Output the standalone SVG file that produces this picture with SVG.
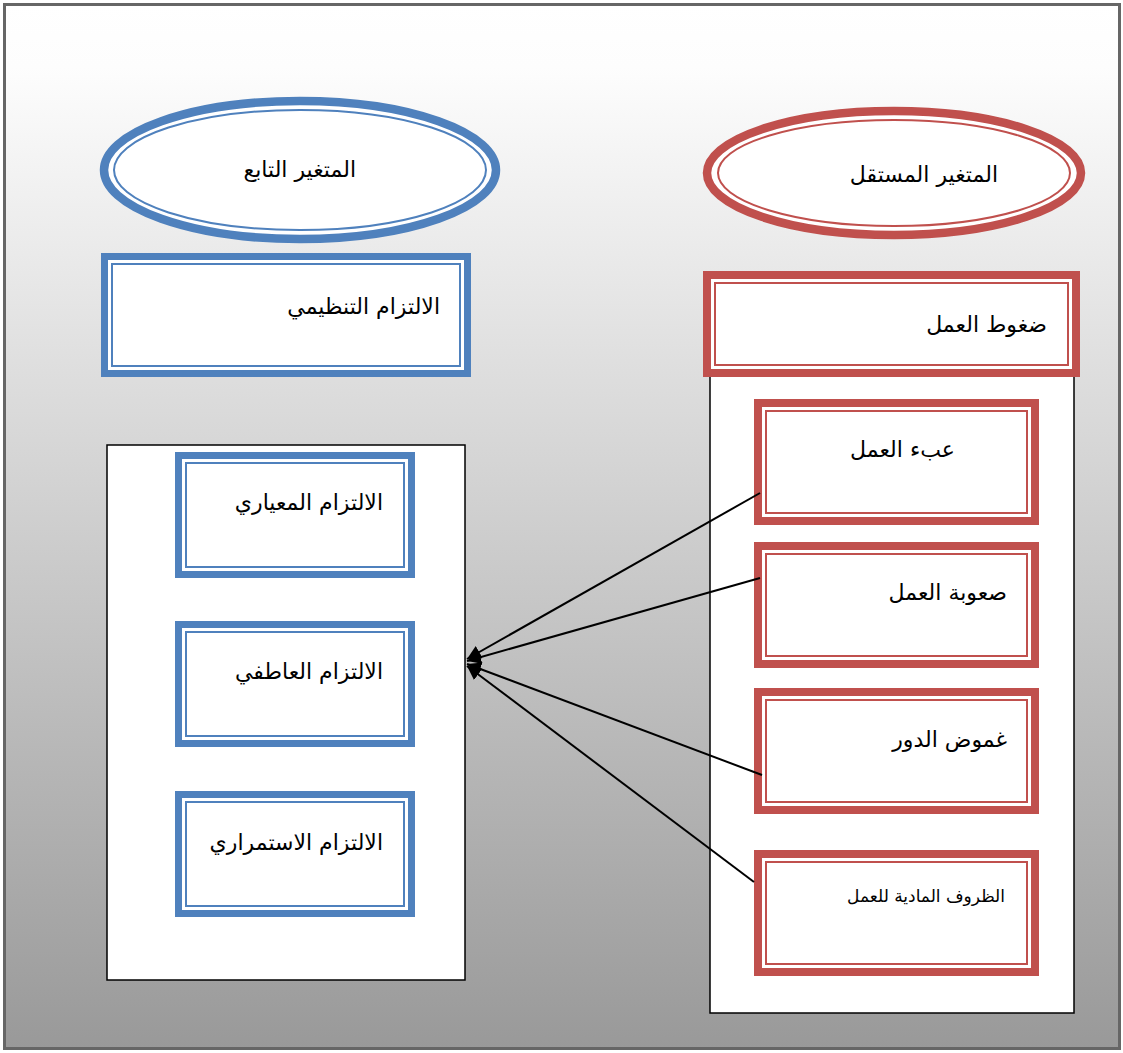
<svg xmlns="http://www.w3.org/2000/svg" width="1123" height="1053" viewBox="0 0 1123 1053">
  <defs>
    <linearGradient id="bg" x1="0" y1="0" x2="0" y2="1">
      <stop offset="0" stop-color="#ffffff"/>
      <stop offset="0.06" stop-color="#fdfdfd"/>
      <stop offset="1" stop-color="#999999"/>
    </linearGradient>
    <marker id="arrow" viewBox="0 0 10 10" refX="10" refY="5" markerWidth="7" markerHeight="7" orient="auto" markerUnits="strokeWidth">
      <path d="M0,0 L10,5 L0,10 z" fill="#000"/>
    </marker>
  </defs>
  <style>
    .outer-b { fill: #fff; stroke: #4F81BD; stroke-width: 7; }
    .inner-b { fill: none; stroke: #4F81BD; stroke-width: 2; }
    .outer-r { fill: #fff; stroke: #C0504D; stroke-width: 8; }
    .inner-r { fill: none; stroke: #C0504D; stroke-width: 2; }
    .ell { stroke-width: 8.5; }
    .box { fill: #fff; stroke: #000; stroke-width: 1.5; }
    .lbl { font-family: "DejaVu Sans", "Noto Sans", sans-serif; font-size: 22px; fill: #000; text-anchor: end; }
    .sm { font-size: 17px; }
    .link { stroke: #000; stroke-width: 2; fill: none; marker-end: url(#arrow); }
  </style>

  <!-- background panel -->
  <rect x="4.5" y="4.5" width="1115" height="1044" fill="url(#bg)" stroke="#666" stroke-width="3"/>

  <!-- containers -->
  <rect class="box" x="107" y="445" width="358" height="535"/>
  <rect class="box" x="710" y="372" width="364" height="641"/>

  <!-- dependent variable -->
  <g id="dep-title">
    <ellipse class="outer-b ell" cx="300" cy="170" rx="196" ry="69"/>
    <ellipse class="inner-b" cx="300" cy="170" rx="186" ry="60"/>
    <text class="lbl" x="356" y="177">المتغير التابع</text>
  </g>
  <g id="dep-main">
    <rect class="outer-b" x="104.5" y="256.5" width="363" height="117"/>
    <rect class="inner-b" x="112" y="264" width="348" height="102"/>
    <text class="lbl" x="440" y="314">الالتزام التنظيمي</text>
  </g>
  <g id="dep-1">
    <rect class="outer-b" x="178.5" y="455.5" width="233" height="119"/>
    <rect class="inner-b" x="186" y="463" width="218" height="104"/>
    <text class="lbl" x="383" y="510">الالتزام المعياري</text>
  </g>
  <g id="dep-2">
    <rect class="outer-b" x="178.5" y="624.5" width="233" height="119"/>
    <rect class="inner-b" x="186" y="632" width="218" height="104"/>
    <text class="lbl" x="383" y="679">الالتزام العاطفي</text>
  </g>
  <g id="dep-3">
    <rect class="outer-b" x="178.5" y="794.5" width="233" height="119"/>
    <rect class="inner-b" x="186" y="802" width="218" height="104"/>
    <text class="lbl" x="383" y="850">الالتزام الاستمراري</text>
  </g>

  <!-- independent variable -->
  <g id="ind-title">
    <ellipse class="outer-r ell" cx="894" cy="173" rx="187" ry="62"/>
    <ellipse class="inner-r" cx="894" cy="173" rx="176" ry="53"/>
    <text class="lbl" x="998" y="182">المتغير المستقل</text>
  </g>
  <g id="ind-main">
    <rect class="outer-r" x="707" y="275" width="369" height="98"/>
    <rect class="inner-r" x="715" y="283" width="353" height="82"/>
    <text class="lbl" x="1047" y="332">ضغوط العمل</text>
  </g>
  <g id="ind-1">
    <rect class="outer-r" x="758" y="403" width="277" height="118"/>
    <rect class="inner-r" x="766" y="411" width="261" height="102"/>
    <text class="lbl" x="955" y="457">عبء العمل</text>
  </g>
  <g id="ind-2">
    <rect class="outer-r" x="758" y="546" width="277" height="118"/>
    <rect class="inner-r" x="766" y="554" width="261" height="102"/>
    <text class="lbl" x="1007" y="600">صعوبة العمل</text>
  </g>
  <g id="ind-3">
    <rect class="outer-r" x="758" y="692" width="277" height="118"/>
    <rect class="inner-r" x="766" y="700" width="261" height="102"/>
    <text class="lbl" x="1007" y="747">غموض الدور</text>
  </g>
  <g id="ind-4">
    <rect class="outer-r" x="758" y="854" width="277" height="118"/>
    <rect class="inner-r" x="766" y="862" width="261" height="102"/>
    <text class="lbl sm" x="1005" y="902">الظروف المادية للعمل</text>
  </g>

  <!-- connectors -->
  <g id="connectors">
    <line class="link" x1="760" y1="493" x2="467" y2="659"/>
    <line class="link" x1="760" y1="578" x2="467" y2="661"/>
    <line class="link" x1="762" y1="775" x2="467" y2="664"/>
    <line class="link" x1="754" y1="882" x2="467" y2="666"/>
  </g>
</svg>
